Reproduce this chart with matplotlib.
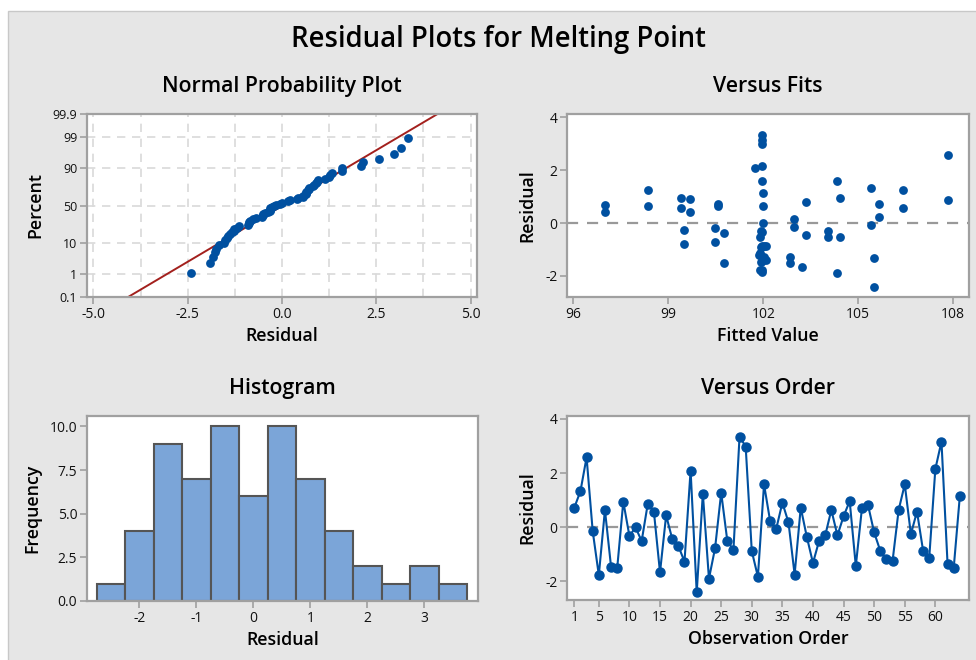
import numpy as np
import matplotlib
matplotlib.use("Agg")
import matplotlib.pyplot as plt
from matplotlib.patches import Rectangle
from statistics import NormalDist

# ---- residuals, in observation order ----
residuals = [
    0.72, 1.33, 2.58, -0.15, -1.78, 0.63, -1.47, -1.53, 0.94, -0.33,
    -0.01, -0.52, 0.86, 0.57, -1.68, 0.43, -0.44, -0.70, -1.28, 2.09,
    -2.42, 1.24, -1.91, -0.78, 1.27, -0.51, -0.85, 3.35, 2.98, -0.89,
    -1.84, 1.58, 0.22, -0.06, 0.90, 0.17, -1.76, 0.72, -0.37, -1.33,
    -0.51, -0.31, 0.63, -0.31, 0.40, 0.96, -1.44, 0.69, 0.81, -0.20,
    -0.88, -1.20, -1.27, 0.63, 1.58, -0.26, 0.57, -0.88, -1.14, 2.15,
    3.16, -1.38, -1.52, 1.14,
]

# ---- fitted values, same order ----
fitted = [
    105.66, 105.39, 107.83, 102.97, 101.96, 98.35, 101.93, 100.76, 99.40, 101.95,
    102.00, 104.04, 107.83, 99.40, 103.23, 97.00, 103.36, 100.48, 102.86, 101.75,
    105.49, 98.35, 104.32, 99.50, 106.42, 101.90, 102.03, 101.95, 101.97, 101.92,
    101.97, 104.32, 105.66, 105.39, 99.68, 102.97, 101.90, 100.58, 100.76, 105.49,
    104.42, 104.04, 100.58, 101.93, 99.68, 104.42, 101.96, 97.00, 103.36, 100.48,
    102.10, 101.88, 102.02, 102.00, 101.97, 99.50, 106.42, 101.95, 101.91, 101.96,
    101.96, 102.08, 102.86, 101.98,
]

order = list(range(1, len(residuals) + 1))

# histogram bins (width 0.5)
bin_edges = [-2.75, -2.25, -1.75, -1.25, -0.75, -0.25, 0.25, 0.75,
             1.25, 1.75, 2.25, 2.75, 3.25, 3.75]

pct_ticks = [0.1, 1, 10, 50, 90, 99, 99.9]
pct_labels = ["0.1", "1", "10", "50", "90", "99", "99.9"]
order_ticks = [1, 5, 10, 15, 20, 25, 30, 35, 40, 45, 50, 55, 60]

BLUE = "#0050a0"
BAR = "#7ba5d8"
EDGE = "#555555"
SPINE = "#a0a0a0"
PANEL = "#e6e6e6"

plt.rcParams["font.family"] = ["Open Sans", "DejaVu Sans"]
plt.rcParams["font.size"] = 10
plt.rcParams["axes.unicode_minus"] = False

W, H = 976, 660
fig = plt.figure(figsize=(W / 100, H / 100), dpi=100, facecolor="white")
fig.patches.append(Rectangle((8 / W, -0.01), 1, 1.01 - 11 / H, transform=fig.transFigure,
                             facecolor=PANEL, edgecolor="#c8c8c8", linewidth=1, zorder=-10))


def axes_px(left, top, right, bottom):
    return fig.add_axes([left / W, 1 - bottom / H, (right - left) / W, (bottom - top) / H])


def style(ax):
    ax.set_facecolor("white")
    for s in ax.spines.values():
        s.set_color(SPINE)
        s.set_linewidth(1.6)
    ax.tick_params(direction="out", length=5, width=1.2, color=SPINE,
                   labelsize=10, pad=2, labelcolor="#111111")


def labels(ax, title, xlabel, ylabel):
    ax.set_title(title, fontsize=15.3, fontweight="semibold", pad=16)
    ax.set_xlabel(xlabel, fontsize=12.8, fontweight="semibold", labelpad=4)
    ax.set_ylabel(ylabel, fontsize=12.8, fontweight="semibold", labelpad=6)


fig.text(0.511, 1 - 39 / H, "Residual Plots for Melting Point", ha="center", va="center",
         fontsize=19.8, fontweight="semibold")

# ---- normal probability plot ----
nd = NormalDist()
res = np.array(residuals)
n = len(res)
srt = np.sort(res)
ranks = (np.arange(1, n + 1) - 0.3) / (n + 0.4)
z = np.array([nd.inv_cdf(p) for p in ranks])
mu, sd = res.mean(), res.std(ddof=1)

ax1 = axes_px(87, 114, 477, 297)
style(ax1)
zlo, zhi = nd.inv_cdf(0.001), nd.inv_cdf(0.999)
ax1.set_xlim(-5.17, 5.17)
ax1.set_ylim(zlo, zhi)
for gx in np.arange(-5, 5.01, 1.25):
    ax1.axvline(gx, color="#d9d9d9", lw=1.2, ls=(0, (5, 4)), zorder=0)
for p in pct_ticks[1:-1]:
    ax1.axhline(nd.inv_cdf(p / 100), color="#d9d9d9", lw=1.2, ls=(0, (5, 4)), zorder=0)
zz = np.array([zlo, zhi])
ax1.plot(mu + sd * zz, zz, color="#a3201d", lw=1.4, zorder=2)
ax1.scatter(srt, z, s=40, color=BLUE, zorder=3, linewidths=0)
ax1.set_xticks([-5.0, -2.5, 0.0, 2.5, 5.0])
ax1.set_xticklabels(["-5.0", "-2.5", "0.0", "2.5", "5.0"])
ax1.set_yticks([nd.inv_cdf(p / 100) for p in pct_ticks])
ax1.set_yticklabels(pct_labels)
ax1.tick_params(axis="y", labelsize=9)
labels(ax1, "Normal Probability Plot", "Residual", "Percent")

# ---- versus fits ----
ax2 = axes_px(567, 114, 969, 297)
style(ax2)
ax2.axhline(0, color="#999999", lw=1.6, ls=(0, (5, 4)), zorder=1)
ax2.scatter(fitted, residuals, s=40, color=BLUE, zorder=3, linewidths=0)
ax2.set_xlim(95.8, 108.5)
ax2.set_ylim(-2.8, 4.13)
ax2.set_xticks([96, 99, 102, 105, 108])
ax2.set_yticks([-2, 0, 2, 4])
labels(ax2, "Versus Fits", "Fitted Value", "Residual")

# ---- histogram ----
ax3 = axes_px(87, 416, 478, 601)
style(ax3)
ax3.hist(residuals, bins=bin_edges, color=BAR, edgecolor=EDGE, linewidth=1.5, zorder=2)
ax3.set_xlim(-2.92, 3.94)
ax3.set_ylim(0, 10.6)
ax3.set_xticks([-2, -1, 0, 1, 2, 3])
ax3.set_yticks([0, 2.5, 5, 7.5, 10])
ax3.set_yticklabels(["0.0", "2.5", "5.0", "7.5", "10.0"])
labels(ax3, "Histogram", "Residual", "Frequency")

# ---- versus order ----
ax4 = axes_px(567, 416, 969, 600)
style(ax4)
ax4.axhline(0, color="#999999", lw=1.6, ls=(0, (5, 4)), zorder=1)
ax4.plot(order, residuals, color=BLUE, lw=1.5, marker="o", ms=6.5, zorder=3)
ax4.set_xlim(-0.2, 65.5)
ax4.set_ylim(-2.7, 4.11)
ax4.set_xticks(order_ticks)
ax4.set_yticks([-2, 0, 2, 4])
labels(ax4, "Versus Order", "Observation Order", "Residual")

fig.savefig("out.png", dpi=100, facecolor=fig.get_facecolor())
